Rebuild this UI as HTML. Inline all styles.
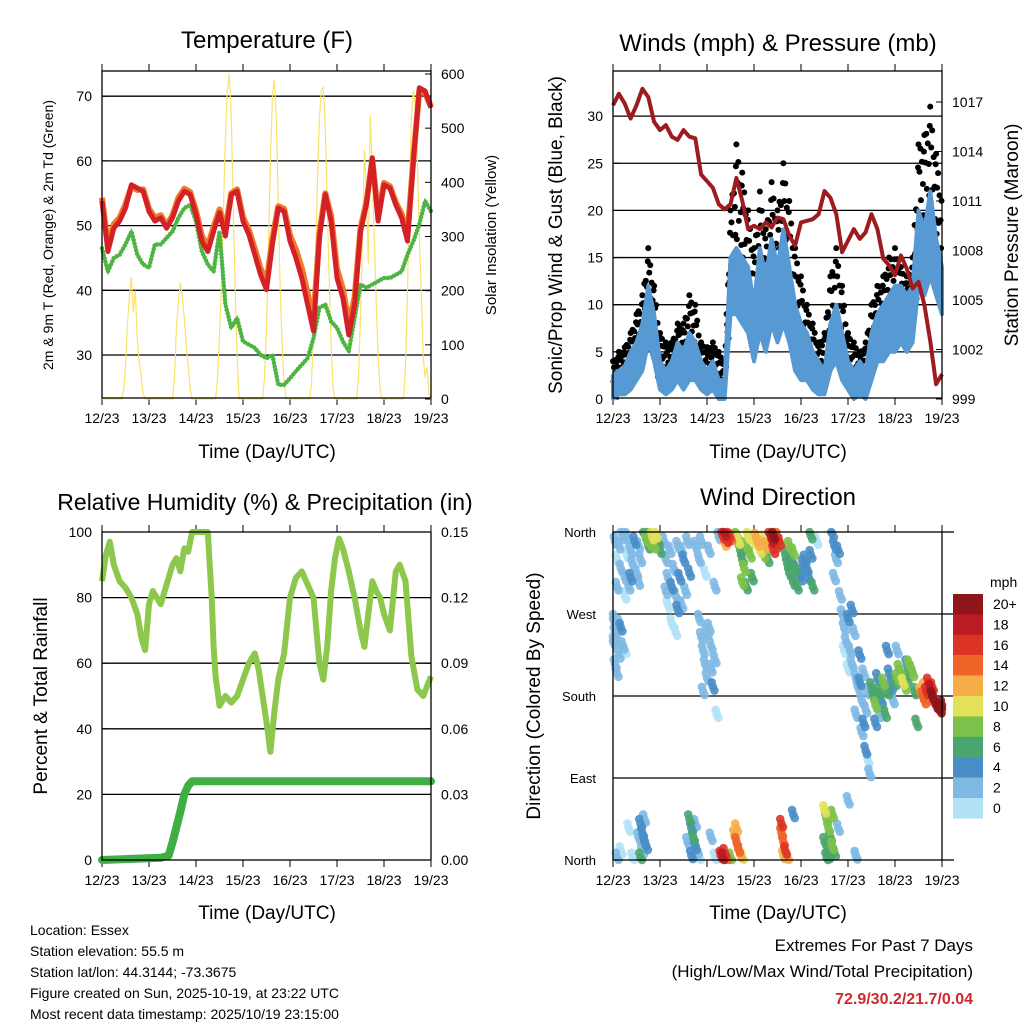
<!DOCTYPE html>
<html><head><meta charset="utf-8"><style>
html,body{margin:0;padding:0;background:#fff}
svg{display:block;font-family:"Liberation Sans",Arial,sans-serif}
</style></head><body>
<svg id="chart" width="1024" height="1024" viewBox="0 0 1024 1024"></svg>
<script>
// ---------- DATA ----------
const dayLabels = ["12/23","13/23","14/23","15/23","16/23","17/23","18/23","19/23"];
const tHours = [0,3,6,9,12,15,18,21,24,27,30,33,36,39,42,45,48,51,54,57,60,63,66,69,72,75,78,81,84,87,90,93,96,99,102,105,108,111,114,117,120,123,126,129,132,135,138,141,144,147,150,153,156,159,162,165,168];
const tempRed = [53.8,46,49.6,50.7,52.7,56.3,55.8,55.3,52.2,50.7,51.2,49.6,51.2,53.8,55.3,54.8,51.7,47.6,46,49.1,52,48.4,54.8,55.3,50.7,48.6,45.5,42.4,40.1,47.1,52.7,52.2,47.6,45,41.9,37.8,33.7,48.1,54.8,50.7,41.9,38.8,33.1,37.8,49.1,53.2,60.5,50.7,56.3,55.8,53.2,51.2,47.6,60,71.3,70.8,68.2];
const tempOrange = [54.3,47,50.2,51.2,53.3,56,55.5,55.6,52.6,51.2,51.6,50,51.6,54.3,55.7,55.2,52.3,48.4,46.8,49.8,52.5,49.5,55,55.6,51.3,49.3,46.4,43.4,41.2,48,53,52.6,48.5,46.3,43.4,39.6,35.5,48.8,55,51.5,43.3,40.2,34.8,38.9,49.6,53.6,60.2,51.6,56.6,56.1,53.6,51.8,48.6,60.4,70.8,70.5,68.4];
const dewGreen = [46.5,42.9,45,45.5,47.1,49.1,45.5,44,43.5,47.1,47.1,48.1,49.1,51.2,52.7,53.2,50.7,46,44,42.9,49.1,37.8,34.2,35.7,32.1,31.6,31.1,30,29.5,30,25.4,25.4,26.4,27.5,28.5,29.5,32.6,37.3,37.8,35.2,34.2,32.1,30.6,35.7,40.9,40.4,40.9,41.4,41.9,41.9,42.4,42.9,45.5,47.6,50.2,53.8,52.2];
const solarHours = [0,10,11,12,13,14,15,16,17,18,19,20,21,22,36,37,38,39,40,41,42,43,44,45,46,58,59,60,61,62,63,64,65,66,67,68,69,70,82,83,84,85,86,87,88,89,90,91,92,93,94,106,107,108,109,110,111,112,113,114,115,116,117,118,119,130,131,132,133,134,135,136,137,138,139,140,141,142,143,154,155,156,157,158,159,160,161,162,163,164,165,166,167,168];
const solarValues = [0,0,15,60,140,190,225,160,200,110,70,40,10,0,0,40,130,180,215,190,150,100,60,20,0,0,40,120,220,350,480,570,600,520,360,200,80,0,0,40,130,280,440,560,590,520,360,200,100,30,0,0,30,120,250,400,520,570,575,500,360,220,100,20,0,0,40,150,300,460,380,250,525,420,300,180,80,20,0,0,60,200,380,520,570,540,450,300,200,80,40,60,10,0];

const presHours = tHours;
const pressure = [1016.8,1017.5,1016.9,1016,1016.8,1017.8,1017.3,1015.8,1015.3,1015.6,1014.9,1014.7,1015.3,1014.9,1014.8,1012.6,1012.2,1011.8,1010.8,1010.5,1010.8,1012.4,1011,1009.3,1009.5,1009.3,1009.7,1009.4,1010,1009.9,1008.9,1008.3,1009.7,1009.8,1009.9,1010.2,1011.6,1011.2,1010.2,1007.9,1008.6,1009.3,1008.7,1009.1,1010.2,1009.3,1007.5,1007.1,1006.5,1007.7,1006.9,1005.7,1006.1,1004.7,1002.5,999.9,1000.5];
const windHours = tHours;
const windHi = [2.5,3,3.5,5,6,8,12,9,4,3,4,6,5,7,6,4,3,4,2,2,15,16,15,14,10,16,13,17,14,18,14,10,8,7,5,4,3,8,10,7,4,3,4,3,7,9,10,11,12,12,11,12,20,18,22,17,14];
const windLo = [0,0.5,0.5,1,2,3,6,4,1,0.5,1,2,1,2,2,1,0.5,1,0,0,9,9,8,7,4,7,5,8,6,8,6,3,2,2,1,0.5,0.5,3,4,2,1,0,0.5,0,2,4,4,5,5,6,5,6,12,11,13,11,9];
const gustMax = [4,5,5.5,7,9,11,16,12,7,6,6,8,8,11,10,6,5.5,6,5,4,20,27,24,20,16,22,18,23,20,25,21,16,13,10,8,6,7,13,16,12,7,6,5,6,10,12,13,15,16,14,13,15,27,28,31,26,22];

const rhHours = [0,2,4,6,9,12,15,18,20,22,24,26,28,30,32,34,36,38,40,42,44,46,48,50,52,54,56,57,58,60,63,66,69,72,75,78,80,82,84,86,88,90,93,96,99,102,105,108,111,113,115,117,119,121,123,126,129,132,134,136,138,140,142,144,147,150,152,155,158,161,164,166,168];
const rhValues = [85,93,97,90,85,83,80,75,68,64,78,82,80,78,82,86,90,92,88,95,94,100,100,100,100,100,80,65,56,47,50,48,50,55,60,63,58,50,42,33,45,55,63,80,86,88,84,80,60,55,65,82,92,98,95,88,80,70,65,75,85,82,80,75,70,88,90,85,62,52,50,53,56];
const rainHours = [0,30,34,36,38,40,42,44,46,168];
const rainValues = [0,0.001,0.002,0.008,0.015,0.022,0.03,0.034,0.036,0.036];

const speedBins = [0,2,4,6,8,10,12,14,16,18,20];
const speedColors = ["#b3e2f7","#7fb9e3","#4a8ec7","#4aa56e","#7cc24a","#e3e05a","#f7ad47","#f06429","#dc3326","#bb1b22","#8e1519"];
const binLabels = ["0","2","4","6","8","10","12","14","16","18","20+"];
const dirObs = [
[1,350,2],[2,330,1],[3,345,2],[4,320,2],[5,355,3],[6,310,2],[7,335,1],[8,300,2],[9,340,3],[10,325,2],[11,350,4],[12,315,2],[13,345,3],[14,330,2],[2,300,2],[6,290,1],[4,360,1],[9,310,4],[13,305,2],[7,355,2],
[0,265,2],[1,250,2],[2,240,3],[3,225,2],[4,255,4],[1,215,2],[5,235,2],[2,205,3],[6,230,1],[0,240,2],[3,260,2],
[16,358,6],[17,352,8],[18,356,7],[19,348,9],[20,355,10],[21,345,8],[22,357,11],[23,350,7],[24,340,6],[18,345,6],
[26,350,2],[27,330,2],[28,310,2],[29,340,3],[30,300,4],[31,320,2],[32,290,3],[33,345,2],[34,310,4],[35,280,3],[36,330,4],[37,295,2],[38,350,2],[39,315,4],[28,280,1],[30,260,1],[32,250,1],[27,295,3],[33,275,4],[35,340,3],
[44,265,2],[45,245,2],[46,230,3],[47,215,2],[48,200,2],[49,255,3],[50,235,2],[51,190,4],[52,220,2],[46,185,2],[48,250,3],[50,210,3],[44,330,2],[45,350,2],[47,315,1],[49,340,2],[52,300,2],[54,355,3],[53,160,1],[42,345,2],
[56,356,16],[57,359,18],[58,352,16],[59,357,17],[60,354,15],[57,348,12],
[63,358,8],[64,350,10],[65,340,7],[66,330,6],[67,320,8],[68,345,9],[69,355,11],[70,335,8],[71,310,7],[72,350,10],[66,305,8],[68,300,7],
[73,354,12],[74,348,13],[75,340,10],[76,352,11],[77,335,8],[78,345,12],[79,330,7],
[80,358,17],[81,352,18],[82,356,20],[83,346,16],[84,355,14],[85,349,16],[82,340,17],
[88,335,7],[89,325,6],[90,315,6],[91,330,5],[92,305,7],[93,320,6],[94,300,6],[95,315,5],[96,310,5],[97,325,4],[98,330,4],[99,320,4],[100,310,5],[101,335,4],[102,300,6],[90,345,8],[92,338,8],[104,350,0],[101,356,6],
[112,358,4],[113,345,4],[114,330,3],[115,340,4],[113,310,2],
[116,290,2],[117,270,3],[118,255,2],[119,240,2],[120,265,4],[121,230,2],[122,215,3],[123,250,2],[124,200,3],[125,190,2],[126,225,4],[127,175,2],[128,205,3],[129,165,2],[130,185,2],[118,230,1],[120,210,1],[122,275,4],[124,160,2],[126,195,4],[128,150,4],[129,120,4],[127,140,3],[130,110,1],[131,95,2],
[132,190,6],[133,180,7],[134,170,8],[135,200,5],[136,185,7],[137,175,4],[138,195,8],[139,160,6],[140,185,7],[141,205,4],[142,190,5],[143,175,3],[144,195,7],[145,200,8],[146,210,9],[147,205,8],[148,195,10],[149,190,8],[150,200,7],[151,215,9],[152,210,6],[153,205,8],[154,185,6],[155,150,6],[145,230,3],[140,230,4],[136,160,3],[134,150,4],[150,215,4],
[157,185,13],[158,180,14],[159,190,12],[160,185,16],[161,178,15],[162,188,18],[163,180,20],[164,175,19],[165,170,20],[166,168,18],[167,165,20],[168,170,20],[159,175,14],[161,195,16],[163,190,17],
[14,40,4],[15,30,4],[16,20,4],[15,10,3],[14,3,6],[16,45,3],[17,15,4],[13,25,2],[2,3,2],[4,10,1],[8,35,1],[10,3,1],
[39,45,6],[40,35,4],[41,25,6],[42,15,4],[40,5,4],[42,40,3],[43,10,2],[38,20,3],[44,3,1],
[55,5,16],[56,3,18],[57,8,16],[58,2,14],[62,28,12],[63,20,14],[64,12,14],[65,6,12],[63,35,12],[66,3,10],[60,3,8],[52,3,1],[50,25,2],
[86,30,14],[87,20,14],[88,10,16],[87,5,12],[86,40,16],[89,3,12],[92,50,4],
[108,55,10],[109,45,8],[110,35,8],[111,25,7],[112,15,8],[110,5,7],[112,50,8],[108,20,6],[113,8,6],[109,3,6],
[115,35,2],[120,65,2],[124,5,2],[124,3,1]
];
const tempTicks = [30,40,50,60,70];
const solarTicks = [0,100,200,300,400,500,600];
const windTicks = [0,5,10,15,20,25,30];
const presTicks = [999,1002,1005,1008,1011,1014,1017];
const rhTicks = [0,20,40,60,80,100];
const rainTicks = [0,0.03,0.06,0.09,0.12,0.15];
const dirTicks = [0,90,180,270,360];
const dirNames = ["North","East","South","West","North"];

// ---------- HELPERS ----------
const NS="http://www.w3.org/2000/svg";
const svg=document.getElementById('chart');
function mk(tag,attrs,parent){const e=document.createElementNS(NS,tag);for(const k in attrs)e.setAttribute(k,attrs[k]);(parent||svg).appendChild(e);return e;}
function txt(s,x,y,size,anchor,parent,extra){const t=mk('text',Object.assign({x:x,y:y,'font-size':size,'text-anchor':anchor||'middle',fill:'#000'},extra||{}),parent);t.textContent=s;return t;}
function pathOf(xs,ys,xf,yf){let d='';for(let i=0;i<xs.length;i++){d+=(i?'L':'M')+xf(xs[i]).toFixed(1)+','+yf(ys[i]).toFixed(1);}return d;}

const L=[102,431], R=[613,942];
const T=[71,398], B=[532,860];
function xsc(px){return h=>px[0]+h/168*(px[1]-px[0]);}

function frame(px,py,name,leftTicks,leftY,leftFmt,rightTicks,rightY,rightFmt,grid){
  const g=mk('g',{});
  
  
  const xf=xsc(px);
  grid.forEach(v=>{const y=leftY(v);mk('line',{x1:px[0],x2:px[1],y1:y,y2:y,stroke:'#000','stroke-width':1.3},g);});
  for(let d=0;d<=7;d++){const x=xf(d*24);
    mk('line',{x1:x,x2:x,y1:py[0],y2:py[0]-7,stroke:'#000','stroke-width':1},g);
    mk('line',{x1:x,x2:x,y1:py[1],y2:py[1]+7,stroke:'#000','stroke-width':1},g);
    const lab=txt(dayLabels[d],x,py[1]+25,14,'middle',g);
    
    
  }
  if(leftTicks)leftTicks.forEach(v=>{const y=leftY(v);
    mk('line',{x1:px[0],x2:px[0]+6,y1:y,y2:y,stroke:'#000'},g);
    const l=txt(leftFmt(v),px[0]-10,y+5,14,'end',g);
    
    });
  if(rightTicks)rightTicks.forEach(v=>{const y=rightY(v);
    mk('line',{x1:px[1],x2:px[1]-6,y1:y,y2:y,stroke:'#000'},g);
    const l=txt(rightFmt(v),px[1]+10,y+5,14,'start',g);
    
    });
  return {g,xf};
}
function border(px,py){const r=mk('rect',{x:px[0],y:py[0],width:px[1]-px[0],height:py[1]-py[0],fill:'none',stroke:'#000','stroke-width':1.3});
  
  }

// ---------- PANEL 1: TEMPERATURE ----------
const yT=t=>355-(t-30)*6.47, yS=w=>399-w*0.5417;
let p=frame(L,T,'temperature-panel',tempTicks,yT,v=>String(v),solarTicks,yS,v=>String(v),[30,40,50,60,70]);
let sol=mk('path',{d:pathOf(solarHours,solarValues,p.xf,yS),fill:'none',stroke:'#fbe36a','stroke-width':1.2});


let dew=mk('path',{d:pathOf(tHours,dewGreen,p.xf,yT),fill:'none',stroke:'#4cb543','stroke-width':4.5,'stroke-dasharray':'0 3.5','stroke-linecap':'round'});


let dew2=mk('path',{d:pathOf(tHours,dewGreen,p.xf,yT),fill:'none',stroke:'#4cb543','stroke-width':2.5});


let oT=mk('path',{d:pathOf(tHours,tempOrange,p.xf,yT),fill:'none',stroke:'#f07a2a','stroke-width':6,'stroke-linejoin':'round'});


let rT=mk('path',{d:pathOf(tHours,tempRed,p.xf,yT),fill:'none',stroke:'#d42128','stroke-width':5,'stroke-linejoin':'round'});


border(L,T);
let t1=txt('Temperature (F)',267,48,24);
let a1=txt('Time (Day/UTC)',267,458,19);
let yl1=txt('2m & 9m T (Red, Orange) & 2m Td (Green)',0,0,14,'middle',svg,{transform:'translate(53,235) rotate(-90)'});
let yr1=txt('Solar Insolation (Yellow)',0,0,15,'middle',svg,{transform:'translate(496,235) rotate(-90)'});

// ---------- PANEL 2: WINDS ----------
const yW=s=>399-s*9.43, yP=v=>399-(v-999)*16.5;
p=frame(R,T,'winds-panel',windTicks,yW,v=>String(v),presTicks,yP,v=>String(v),[5,10,15,20,25,30]);
{
  const xf=p.xf;
  const gg=mk('g',{});
  
  
  const fr=[1,0.45,0.8,0.2,0.95,0.6,0.35,0.85,0.05,0.7,0.5,0.9];
  let k=0;
  for(let i=0;i<windHours.length-1;i++){
    for(let s=0;s<12;s++){
      const f=s/12, h=windHours[i]+f*3;
      const g=gustMax[i]+(gustMax[i+1]-gustMax[i])*f;
      const b=windLo[i]+(windLo[i+1]-windLo[i])*f;
      const a=fr[(k++)%12];
      mk('circle',{cx:xf(h),cy:yW(b+(g-b)*a),r:3,fill:'#000'},gg);
    }
  }
  let d=pathOf(windHours,windHi,xf,yW);
  for(let i=windHours.length-1;i>=0;i--)d+='L'+xf(windHours[i]).toFixed(1)+','+yW(windLo[i]).toFixed(1);
  const band=mk('path',{d:d+'Z',fill:'#5799d3',stroke:'#5799d3','stroke-width':4,'stroke-linejoin':'round'});
  
  
  const pr=mk('path',{d:pathOf(presHours,pressure,xf,yP),fill:'none',stroke:'#9c1c1f','stroke-width':4,'stroke-linejoin':'round'});
  
  
}
border(R,T);
let t2=txt('Winds (mph) & Pressure (mb)',778,51,24);
let a2=txt('Time (Day/UTC)',778,458,19);
let yl2=txt('Sonic/Prop Wind & Gust (Blue, Black)',0,0,19,'middle',svg,{transform:'translate(562,235) rotate(-90)'});
let yr2=txt('Station Pressure (Maroon)',0,0,19,'middle',svg,{transform:'translate(1018,235) rotate(-90)'});

// ---------- PANEL 3: RH ----------
const yR=r=>860-r*3.28, yRain=v=>860-v/0.15*328;
p=frame(L,B,'humidity-panel',rhTicks,yR,v=>String(v),rainTicks,yRain,v=>v.toFixed(2),[20,40,60,80]);
let rh=mk('path',{d:pathOf(rhHours,rhValues,p.xf,yR),fill:'none',stroke:'#8cc84b','stroke-width':6,'stroke-linejoin':'round'});


let rn=mk('path',{d:pathOf(rainHours,rainValues,p.xf,yRain),fill:'none',stroke:'#3fae45','stroke-width':8,'stroke-linejoin':'round','stroke-linecap':'round'});


border(L,B);
let t3=txt('Relative Humidity (%) & Precipitation (in)',265,510,23);
let a3=txt('Time (Day/UTC)',267,919,19);
let yl3=txt('Percent & Total Rainfall',0,0,19,'middle',svg,{transform:'translate(47,696) rotate(-90)'});

// ---------- PANEL 4: WIND DIRECTION ----------
const yD=d=>860-d/360*328;
p=frame(R,B,'wind-direction-panel',null,yD,null,null,null,null,[90,180,270]);
dirTicks.forEach((v,i)=>{const l=txt(dirNames[i],596,yD(v)+5,13,'end');
  
  
  mk('line',{x1:R[1],x2:R[1]+12,y1:yD(v),y2:yD(v),stroke:'#000','stroke-width':1.3});});
function binColor(s){let c=0;for(let i=0;i<speedBins.length;i++)if(s>=speedBins[i])c=i;return speedColors[c];}
const sorted=dirObs.slice().sort((a,b)=>a[2]-b[2]);
const jit=[[0,0],[0.8,-4],[-0.6,5]];
sorted.forEach(o=>{jit.forEach(j=>{
  const h=Math.min(168,Math.max(0,o[0]+j[0])), d=Math.min(360,Math.max(0,o[1]+j[1]));
  const c=mk('circle',{cx:p.xf(h),cy:yD(d),r:4.3,fill:binColor(o[2]),'fill-opacity':0.9});
  
  });});
border(R,B);
speedColors.forEach((col,i)=>{const idx=speedColors.length-1-i;const y=594+i*20.4;
  const r=mk('rect',{x:953,y:y,width:30,height:20.6,fill:speedColors[idx]});
  
  
  const l=txt(binLabels[idx],993,y+15,14,'start');
  
  });
let mph=txt('mph',990,587,14,'start');
let t4=txt('Wind Direction',778,505,24);
let a4=txt('Time (Day/UTC)',778,919,19);
let yl4=txt('Direction (Colored By Speed)',0,0,19,'middle',svg,{transform:'translate(540,696) rotate(-90)'});

// ---------- FOOTER ----------
const info=["Location: Essex","Station elevation: 55.5 m","Station lat/lon: 44.3144; -73.3675","Figure created on Sun, 2025-10-19, at 23:22 UTC","Most recent data timestamp: 2025/10/19 23:15:00"];
info.forEach((s,i)=>{const l=txt(s,30,935+i*21,14,'start');
  
  });
let e1=txt('Extremes For Past 7 Days',973,951,17,'end');
let e2=txt('(High/Low/Max Wind/Total Precipitation)',973,977,17,'end');
let e3=txt('72.9/30.2/21.7/0.04',973,1004,16,'end',svg,{fill:'#cc2a2e','font-weight':'bold'});
</script>
</body></html>
